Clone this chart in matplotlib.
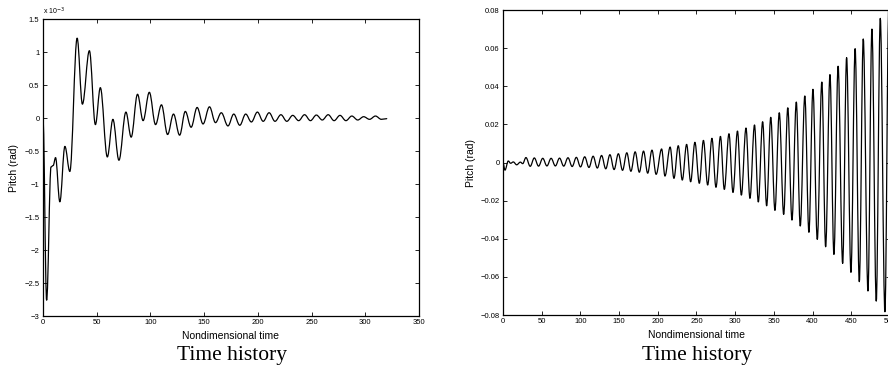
import matplotlib
matplotlib.use("Agg")
import matplotlib.pyplot as plt
import numpy as np
from matplotlib.path import Path
from matplotlib.patches import PathPatch
from matplotlib.ticker import FuncFormatter

# Left run (decaying): turning points of the pitch trace, in units of 1e-3 rad.
time_a = [0, 3.4, 7.5, 9.5, 11.7, 15.7, 20.4, 25.0, 31.8, 36.7,
          43.2, 48.8, 53.4, 59.9, 65.1, 70.7, 77.2, 82.1, 88.0, 93.2,
          99.0, 104.8, 110.3, 116.0, 121.5, 127.2, 132.5, 137.9, 143.5, 149.0,
          155.0, 160.6, 166.0, 172.2, 177.6, 183.2, 188.7, 194.0, 199.6, 205.0,
          210.5, 216.0, 221.5, 227.0, 232.5, 238.0, 243.5, 249.0, 254.5, 260.0,
          265.5, 271.0, 276.5, 282.0, 287.5, 293.0, 298.5, 304.0, 309.5, 315.0,
          320.0]
pitch_a_milli = [0.0, -2.76, -0.74, -0.72, -0.60, -1.27, -0.43, -0.81, 1.21, 0.21,
                 1.02, -0.10, 0.46, -0.59, -0.02, -0.64, 0.09, -0.29, 0.36, -0.04,
                 0.39, -0.10, 0.20, -0.25, 0.06, -0.26, 0.10, -0.14, 0.16, -0.09,
                 0.17, -0.07, 0.08, -0.12, 0.06, -0.11, 0.06, -0.06, 0.09, -0.05,
                 0.08, -0.05, 0.05, -0.05, 0.04, -0.04, 0.05, -0.04, 0.045, -0.03,
                 0.05, -0.04, 0.04, -0.04, 0.03, -0.03, 0.02, -0.02, 0.03, -0.02,
                 -0.01]

# Right run (growing): start-up wiggle, then crests and troughs, in rad.
time_b_start = [0, 2.6, 6.9, 9.9, 13.4, 17.7, 22.5, 25.5]
pitch_b_start = [0.0, -0.0040, 0.0008, -0.0004, 0.0003, -0.0012, 0.0002, -0.0006]

time_b_crest = [29.7, 40.5, 51.4, 62.2, 73.1, 84.0, 94.8, 105.6, 116.5, 127.4,
                138.2, 149.1, 160.0, 170.8, 181.6, 192.5, 205.0, 216.0, 226.5, 237.3,
                248.0, 259.0, 270.0, 281.0, 292.0, 303.0, 314.0, 325.0, 335.5, 346.0,
                357.0, 368.0, 379.0, 390.0, 400.5, 412.0, 422.5, 433.0, 444.0, 455.0,
                465.5, 476.7, 487.5, 498.5]
pitch_b_crest = [0.0026, 0.0024, 0.0022, 0.0022, 0.0023, 0.0025, 0.0027, 0.0030, 0.0033, 0.0037,
                 0.0041, 0.0046, 0.0051, 0.0056, 0.0060, 0.0065, 0.0071, 0.0081, 0.0088, 0.0095,
                 0.0106, 0.0116, 0.0127, 0.0137, 0.0151, 0.0165, 0.0181, 0.0197, 0.0214, 0.0237,
                 0.0261, 0.0287, 0.0317, 0.0349, 0.0384, 0.0422, 0.0461, 0.0505, 0.0550, 0.0597,
                 0.0648, 0.0700, 0.0756, 0.0815]

time_b_trough = [35.2, 46.0, 56.8, 67.7, 78.5, 89.4, 100.2, 111.1, 121.9, 132.8,
                 143.6, 154.5, 165.3, 176.2, 187.0, 197.9, 209.3, 220.9, 231.7, 242.5,
                 253.7, 264.5, 275.2, 286.0, 297.2, 308.0, 319.1, 329.9, 340.7, 351.4,
                 362.7, 373.4, 384.1, 395.3, 406.1, 416.9, 427.6, 438.9, 449.6, 460.4,
                 471.6, 482.3, 493.5]
pitch_b_trough = [-0.0020, -0.0019, -0.0018, -0.0018, -0.0019, -0.0021, -0.0023, -0.0026, -0.0029, -0.0033,
                  -0.0037, -0.0041, -0.0046, -0.0051, -0.0056, -0.0062, -0.0071, -0.0083, -0.0092, -0.0101,
                  -0.0109, -0.0118, -0.0130, -0.0141, -0.0157, -0.0171, -0.0188, -0.0207, -0.0227, -0.0251,
                  -0.0272, -0.0302, -0.0333, -0.0366, -0.0403, -0.0442, -0.0482, -0.0529, -0.0576, -0.0625,
                  -0.0674, -0.0727, -0.0783]

xticks_a = [0, 50, 100, 150, 200, 250, 300, 350]
yticks_a = [-3, -2.5, -2, -1.5, -1, -0.5, 0, 0.5, 1, 1.5]
xticks_b = [0, 50, 100, 150, 200, 250, 300, 350, 400, 450, 500]
yticks_b = [-0.08, -0.06, -0.04, -0.02, 0, 0.02, 0.04, 0.06, 0.08]

SANS = ["Liberation Sans", "DejaVu Sans"]
SERIF = ["Liberation Serif", "DejaVu Serif"]


def tick_fmt(v, _pos):
    s = f"{round(v, 6):g}"
    return s.replace("-", "\u2212")


def turning_point_curve(t, v, k=0.364):
    # cubic segments between successive turning points, flat at each one,
    # so the trace reads as a smooth oscillation rather than a zigzag
    verts = [(t[0], v[0])]
    codes = [Path.MOVETO]
    for i in range(len(t) - 1):
        dt = t[i + 1] - t[i]
        verts += [(t[i] + k * dt, v[i]), (t[i + 1] - k * dt, v[i + 1]),
                  (t[i + 1], v[i + 1])]
        codes += [Path.CURVE4] * 3
    return PathPatch(Path(verts, codes), fill=False, edgecolor="black",
                     lw=0.9, capstyle="round", joinstyle="round")


def style_axes(ax, xlabel_y, ylabel_x):
    ax.tick_params(direction="in", length=3, width=0.6, top=True, right=True,
                   labelsize=5.5, pad=2.5)
    for lab in ax.get_xticklabels() + ax.get_yticklabels():
        lab.set_family(SANS)
    for sp in ax.spines.values():
        sp.set_linewidth(0.9)
    ax.xaxis.set_major_formatter(FuncFormatter(tick_fmt))
    ax.yaxis.set_major_formatter(FuncFormatter(tick_fmt))
    ax.set_xlabel("Nondimensional time", fontsize=7.5, family=SANS)
    ax.set_ylabel("Pitch (rad)", fontsize=7.5, family=SANS)
    ax.xaxis.set_label_coords(0.5, xlabel_y)
    ax.yaxis.set_label_coords(ylabel_x, 0.5)


fig = plt.figure(figsize=(8.88, 3.85), dpi=100)

# left panel
ax1 = fig.add_axes([0.0484, 0.1792, 0.4234, 0.7714])
ax1.add_patch(turning_point_curve(time_a, pitch_a_milli))
ax1.set_xlim(0, 350)
ax1.set_ylim(-3, 1.5)
ax1.set_xticks(xticks_a)
ax1.set_yticks(yticks_a)
style_axes(ax1, -0.052, -0.065)
ax1.text(0.0, 1.008, r"x 10$^{-3}$", transform=ax1.transAxes, fontsize=5,
         family=SANS, ha="left", va="bottom")

# right panel (runs a little past the figure edge, as in the source)
t_b = np.concatenate([time_b_start, time_b_crest, time_b_trough])
p_b = np.concatenate([pitch_b_start, pitch_b_crest, pitch_b_trough])
order = np.argsort(t_b)
ax2 = fig.add_axes([0.5664, 0.1818, 0.4358, 0.7922])
ax2.add_patch(turning_point_curve(t_b[order], p_b[order]))
ax2.set_xlim(0, 500)
ax2.set_ylim(-0.08, 0.08)
ax2.set_xticks(xticks_b)
ax2.set_yticks(yticks_b)
style_axes(ax2, -0.050, -0.07)

fig.text(0.261, 0.076, "Time history", fontsize=15.5, family=SERIF,
         ha="center", va="center")
fig.text(0.785, 0.076, "Time history", fontsize=15.5, family=SERIF,
         ha="center", va="center")

fig.savefig("out.png", dpi=100)
